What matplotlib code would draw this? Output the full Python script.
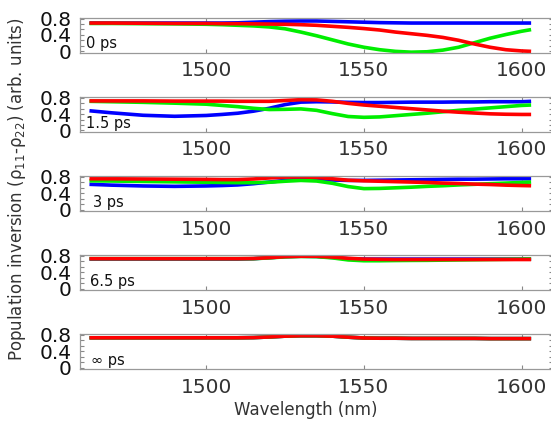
import numpy as np
import matplotlib
matplotlib.use('Agg')
import matplotlib.pyplot as plt
from matplotlib.ticker import MultipleLocator

# wavelength sampling (nm)
wl = [1463, 1470, 1480, 1490, 1500, 1505, 1510, 1515, 1520, 1525, 1530, 1535, 1540,
      1545, 1550, 1555, 1560, 1565, 1570, 1575, 1580, 1585, 1590, 1595, 1600, 1603]

# 0 ps
blue_0 = [.69, .69, .69, .69, .69, .69, .695, .71, .725, .735, .74, .74, .73,
          .72, .71, .70, .695, .69, .69, .69, .69, .69, .69, .69, .69, .69]
green_0 = [.68, .68, .675, .67, .66, .65, .635, .62, .595, .55, .47, .38, .28,
           .18, .10, .04, .0, -.02, -.01, .03, .10, .21, .32, .41, .49, .53]
red_0 = [.69, .69, .685, .68, .68, .675, .675, .67, .665, .66, .65, .635, .61,
         .585, .555, .52, .47, .43, .39, .34, .27, .18, .10, .04, .01, .0]

# 1.5 ps
blue_15 = [.48, .43, .37, .345, .365, .39, .42, .47, .54, .63, .69, .70, .695,
           .685, .68, .68, .685, .69, .69, .69, .695, .695, .70, .70, .70, .71]
green_15 = [.71, .70, .685, .665, .64, .61, .58, .54, .51, .515, .525, .49, .41,
            .34, .32, .33, .36, .39, .42, .455, .49, .52, .55, .58, .61, .62]
red_15 = [.72, .72, .72, .715, .715, .715, .71, .71, .71, .73, .75, .745, .71,
          .66, .62, .59, .56, .53, .50, .47, .445, .425, .405, .395, .39, .39]

# 3 ps
blue_3 = [.615, .595, .575, .565, .575, .585, .60, .63, .67, .71, .74, .735, .72,
          .71, .71, .715, .72, .725, .73, .735, .74, .74, .745, .75, .75, .75]
green_3 = [.70, .695, .685, .675, .665, .66, .655, .655, .665, .69, .71, .695, .64,
           .56, .51, .515, .53, .545, .565, .58, .60, .615, .63, .645, .66, .67]
red_3 = [.75, .75, .745, .74, .735, .73, .73, .745, .77, .79, .795, .785, .75,
         .715, .70, .69, .68, .67, .66, .645, .635, .62, .61, .595, .585, .58]

# 6.5 ps
blue_65 = [.72, .72, .72, .72, .72, .72, .72, .73, .755, .78, .79, .785, .76,
           .73, .72, .72, .72, .72, .72, .72, .72, .72, .72, .72, .72, .72]
green_65 = [.73, .73, .73, .73, .73, .73, .73, .73, .75, .775, .785, .78, .75,
            .70, .68, .68, .685, .688, .69, .695, .70, .705, .71, .715, .72, .725]
red_65 = [.73, .73, .73, .73, .73, .73, .73, .735, .755, .78, .79, .79, .77,
          .74, .72, .715, .71, .71, .71, .71, .71, .71, .71, .71, .71, .71]

# inf ps
blue_inf = [.73, .73, .73, .73, .73, .73, .73, .735, .75, .77, .78, .78, .77,
            .745, .725, .72, .72, .715, .715, .715, .715, .715, .71, .71, .71, .71]
green_inf = blue_inf
red_inf = blue_inf

panels = [
    ('0 ps', blue_0, green_0, red_0),
    ('1.5 ps', blue_15, green_15, red_15),
    ('3 ps', blue_3, green_3, red_3),
    ('6.5 ps', blue_65, green_65, red_65),
    ('\u221e ps', blue_inf, green_inf, red_inf),
]
label_x = [0.013, 0.013, 0.027, 0.022, 0.024]
label_y = [0.13, 0.13, 0.115, 0.13, 0.13]

W, H = 551, 424
fig = plt.figure(figsize=(W / 100, H / 100), dpi=100)

left = 80 / W
width = 473.2 / W
ax_h = 35.3

for i, (name, b, g, r) in enumerate(panels):
    top = 17.7 + 79.1 * i
    ax = fig.add_axes([left, 1 - (top + ax_h) / H, width, ax_h / H])
    ax.plot(wl, b, color='#0000ff', lw=2.6, solid_capstyle='butt')
    ax.plot(wl, g, color='#00ee00', lw=2.6, solid_capstyle='butt')
    ax.plot(wl, r, color='#ff0000', lw=2.6, solid_capstyle='butt')
    ax.set_xlim(1460, 1610)
    ax.set_ylim(-0.04, 0.82)
    ax.set_xticks([1500, 1550, 1600])
    ax.set_yticks([0, 0.4, 0.8])
    ax.set_yticklabels(['0', '0.4', '0.8'])
    ax.yaxis.set_minor_locator(MultipleLocator(0.4 / 3))
    ax.tick_params(axis='both', which='both', direction='in', colors='#888888',
                   top=True, right=True)
    ax.tick_params(axis='x', which='major', length=3, width=0.8, pad=6,
                   labelsize=14.5, labelcolor='#333333')
    ax.tick_params(axis='y', which='major', length=3, width=0.8, pad=6,
                   labelsize=14.5, labelcolor='#111111')
    ax.tick_params(axis='y', which='minor', length=3, width=0.8)
    for s in ax.spines.values():
        s.set_color('#999999')
        s.set_linewidth(0.9)
    ax.text(label_x[i], label_y[i], name, transform=ax.transAxes,
            fontsize=10.5, color='#111111', ha='left', va='baseline')

fig.text(305.7 / W, 1 - 410 / H, 'Wavelength (nm)', fontsize=12,
         color='#333333', ha='center', va='center')
fig.text(17 / W, 1 - 189 / H,
         'Population inversion (\u03c1$_{11}$-\u03c1$_{22}$) (arb. units)',
         fontsize=12, color='#333333', rotation=90, ha='center', va='center')

plt.savefig('out.png', dpi=100)
